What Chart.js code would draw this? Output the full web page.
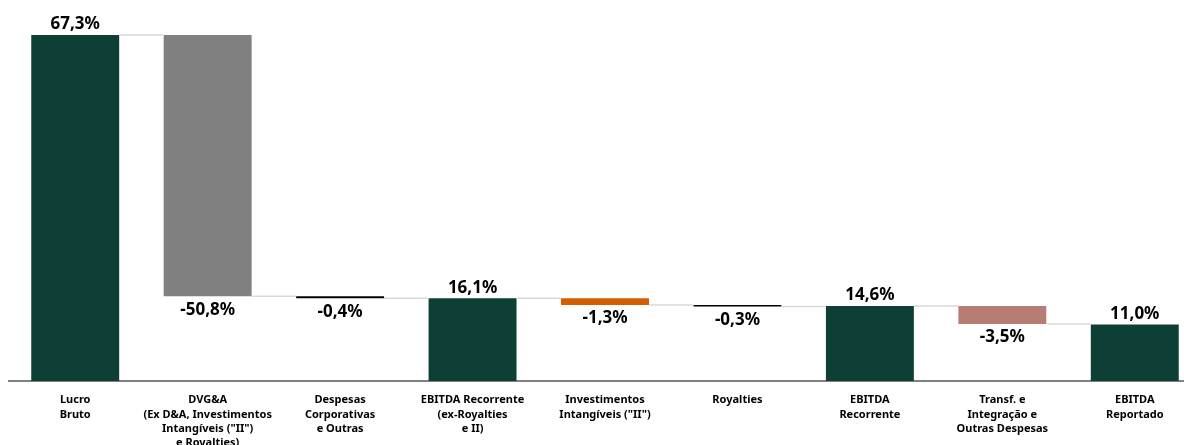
<!DOCTYPE html>
<html>
<head>
<meta charset="utf-8">
<script src="https://cdn.jsdelivr.net/npm/chart.js@4"></script>
<style>
  html, body { margin: 0; padding: 0; background: #fff; overflow: hidden; }
  #wrap { position: relative; width: 1210px; height: 445px; }
</style>
</head>
<body>
<div id="wrap"><canvas id="chart"></canvas></div>
<script>
// categories (multi-line labels)
const categories = [
  ['Lucro', 'Bruto'],
  ['DVG&A', '(Ex D&A, Investimentos', 'Intangíveis ("II")', 'e Royalties)'],
  ['Despesas', 'Corporativas', 'e Outras'],
  ['EBITDA Recorrente', '(ex-Royalties', 'e II)'],
  ['Investimentos', 'Intangíveis ("II")'],
  ['Royalties'],
  ['EBITDA', 'Recorrente'],
  ['Transf. e', 'Integração e', 'Outras Despesas'],
  ['EBITDA', 'Reportado']
];
const values = [67.3, -50.8, -0.4, 16.1, -1.3, -0.3, 14.6, -3.5, 11.0];
const isTotal = [true, false, false, true, false, false, true, false, true];
const barColors = ['#0d3f37', '#808080', '#000000', '#0d3f37', '#d45f00', '#000000', '#0d3f37', '#b77c74', '#0d3f37'];

// build floating ranges for the waterfall
let running = 0;
const ranges = values.map((v, i) => {
  if (isTotal[i]) {
    running = v;
    return [0, v];
  }
  const r = [running + v, running];
  running += v;
  return r;
});
const levels = ranges.map((r, i) => isTotal[i] ? r[1] : r[0]);

const fmt = v => v.toFixed(1).replace('.', ',') + '%';

// connectors + value labels
const waterfallPlugin = {
  id: 'waterfall',
  afterDatasetsDraw(chart) {
    const ctx = chart.ctx;
    const meta = chart.getDatasetMeta(0);
    const y = chart.scales.y;

    ctx.save();
    ctx.strokeStyle = '#d9d9d9';
    ctx.lineWidth = 1.5;
    for (let i = 0; i < meta.data.length - 1; i++) {
      const a = meta.data[i], b = meta.data[i + 1];
      const py = y.getPixelForValue(levels[i]);
      ctx.beginPath();
      ctx.moveTo(a.x + a.width / 2, py);
      ctx.lineTo(b.x - b.width / 2, py);
      ctx.stroke();
    }

    ctx.fillStyle = '#000';
    ctx.font = 'bold 17px "Noto Sans"';
    ctx.textAlign = 'center';
    meta.data.forEach((bar, i) => {
      const top = Math.min(bar.y, bar.base);
      const bottom = Math.max(bar.y, bar.base);
      if (values[i] >= 0) {
        ctx.textBaseline = 'bottom';
        ctx.fillText(fmt(values[i]), bar.x, top - 2);
      } else {
        ctx.textBaseline = 'top';
        ctx.fillText(fmt(values[i]), bar.x, bottom + 5);
      }
    });
    ctx.restore();
  }
};

new Chart(document.getElementById('chart'), {
  type: 'bar',
  data: {
    labels: categories,
    datasets: [{
      data: ranges,
      backgroundColor: barColors,
      borderWidth: 0,
      categoryPercentage: 1,
      barPercentage: 0.664
    }]
  },
  options: {
    responsive: true,
    maintainAspectRatio: false,
    animation: false,
    layout: { padding: { top: 35, left: 9, right: 9, bottom: 0 } },
    plugins: {
      legend: { display: false },
      tooltip: { enabled: false }
    },
    scales: {
      x: {
        grid: { display: false },
        border: { display: true, color: '#808080', width: 2 },
        ticks: {
          autoSkip: false,
          maxRotation: 0,
          padding: 4,
          color: '#000',
          font: { family: '"Noto Sans"', size: 11, weight: 'bold', lineHeight: 1.3 }
        },
        afterFit(scale) { scale.height = 64; }
      },
      y: {
        display: false,
        min: 0,
        max: 67.3
      }
    }
  },
  plugins: [waterfallPlugin]
});
</script>
</body>
</html>
